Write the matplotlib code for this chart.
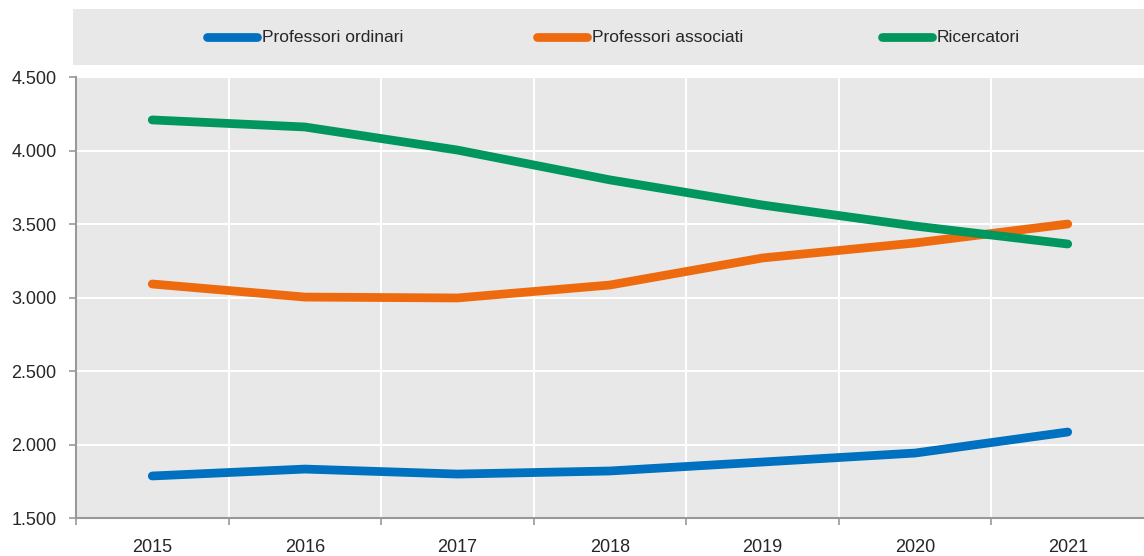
import matplotlib
matplotlib.use('Agg')
import matplotlib.pyplot as plt
from matplotlib.ticker import FuncFormatter

plt.rcParams['font.family'] = ['Liberation Sans', 'DejaVu Sans']

# data
years = ['2015', '2016', '2017', '2018', '2019', '2020', '2021']
ordinari = [1786, 1833, 1799, 1820, 1881, 1942, 2085]
associati = [3092, 3003, 2997, 3085, 3269, 3371, 3500]
ricercatori = [4208, 4160, 4003, 3800, 3629, 3486, 3364]
labels = ['Professori ordinari', 'Professori associati', 'Ricercatori']
colors = ['#0070C0', '#EE6A0E', '#00965E']

bg = '#E8E8E8'
fig = plt.figure(figsize=(11.44, 5.56), dpi=100)

ax = fig.add_axes([0.0664, 0.0683, 0.9336, 0.7932])
ax.set_facecolor(bg)
x = range(len(years))
for vals, c in zip([ordinari, associati, ricercatori], colors):
    ax.plot(x, vals, color=c, lw=6.3, solid_capstyle='round', solid_joinstyle='round', zorder=3)

ax.set_xlim(-0.5, len(years) - 0.5)
ax.set_ylim(1500, 4500)
ax.set_yticks(range(1500, 4501, 500))
ax.yaxis.set_major_formatter(FuncFormatter(lambda v, p: f'{int(v):,}'.replace(',', '.')))
ax.set_xticks(list(x))
ax.set_xticklabels(years)
ax.set_xticks([i + 0.5 for i in range(-1, len(years) - 1)], minor=True)
ax.tick_params(axis='x', which='major', length=0, pad=15)
ax.tick_params(axis='x', which='minor', length=5, color='#999999', width=1.2)
ax.tick_params(axis='y', length=5, color='#999999', width=1.2, pad=9)
ax.tick_params(labelsize=13, labelcolor='#262626')
for sp in ['top', 'right']:
    ax.spines[sp].set_visible(False)
for sp in ['left', 'bottom']:
    ax.spines[sp].set_color('#999999')
    ax.spines[sp].set_linewidth(1.5)
ax.grid(axis='y', color='white', lw=1.5)
ax.grid(axis='x', which='minor', color='white', lw=1.5)
ax.set_axisbelow(True)

# legend band
lax = fig.add_axes([0.0638, 0.883, 0.9362, 0.1007])
lax.set_xlim(73, 1144)
lax.set_ylim(0, 1)
lax.axis('off')
lax.add_patch(plt.Rectangle((73, 0), 1071, 1, color=bg, zorder=0))
for lx, lab, c in zip([207, 537, 882], labels, colors):
    lax.plot([lx, lx + 50], [0.5, 0.5], color=c, lw=6.3, solid_capstyle='round')
    lax.text(lx + 55, 0.5, lab, fontsize=12.5, color='#262626', va='center', ha='left')

fig.savefig('out.png', dpi=100)
